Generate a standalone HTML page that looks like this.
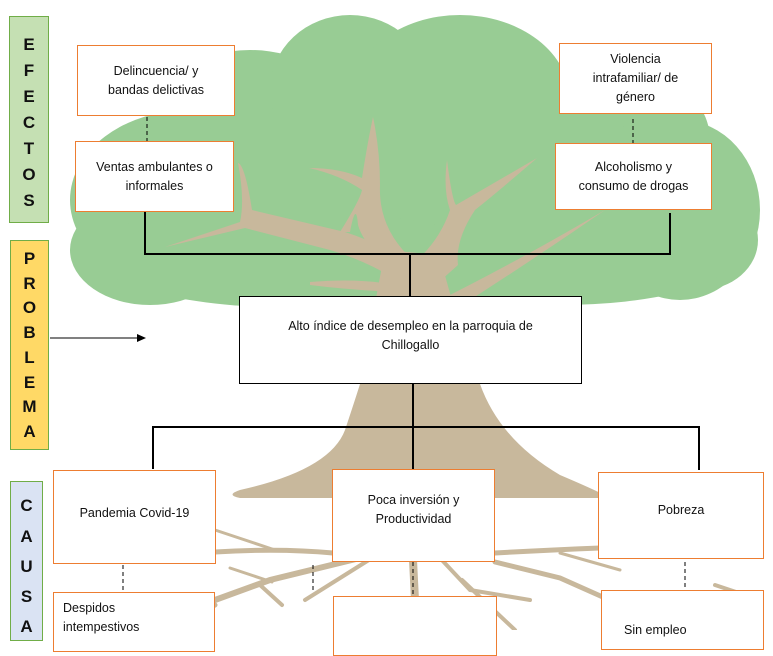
<!DOCTYPE html>
<html><head><meta charset="utf-8"><style>
body{margin:0;width:773px;height:630px;overflow:hidden;background:#fff;font-family:"Liberation Sans",sans-serif;position:relative}
.b{position:absolute;background:#fff;border:1.5px solid #ed7d31;box-sizing:border-box;display:flex;align-items:center;justify-content:center;text-align:center;font-size:12.5px;line-height:19px;color:#111}
.side{position:absolute;box-sizing:border-box;border:1.5px solid #70ad47;font-weight:bold;font-size:17px;text-align:center;color:#111}
.side span{position:absolute;left:0;right:0}
svg{position:absolute;left:0;top:0}
</style></head><body>
<svg width="773" height="630">
<g fill="#98cc94">
<ellipse cx="190" cy="200" rx="120" ry="90"/>
<ellipse cx="150" cy="250" rx="80" ry="55"/>
<ellipse cx="250" cy="120" rx="100" ry="70"/>
<ellipse cx="350" cy="90" rx="80" ry="75"/>
<ellipse cx="460" cy="100" rx="110" ry="85"/>
<ellipse cx="600" cy="140" rx="110" ry="80"/>
<ellipse cx="680" cy="210" rx="80" ry="90"/>
<ellipse cx="700" cy="240" rx="58" ry="50"/>
<ellipse cx="420" cy="200" rx="300" ry="100"/>
<ellipse cx="300" cy="260" rx="200" ry="48"/>
<ellipse cx="560" cy="260" rx="170" ry="45"/>
</g>
<g fill="#c8b89c">
<path d="M165 247 L240 222 Q245 200 238 163 Q245 165 252 210 L260 212 L345 232 Q400 250 430 280 L420 296 Q380 265 330 250 L245 228 Z"/>
<path d="M373 117 Q380 150 380 185 Q378 230 415 262 L405 275 Q365 250 358 225 Q356 200 350 232 L340 232 Q360 200 362 190 Q340 175 309 168 Q340 168 362 178 Q368 140 373 117 Z"/>
<path d="M447 160 Q452 200 456 205 L537 158 Q500 190 475 210 Q455 240 458 265 L430 290 L415 262 Q440 240 450 210 Q443 190 447 160 Z"/>
<path d="M605 210 Q540 255 470 300 L440 300 Q520 260 605 210 Z"/>
<path d="M310 282 Q360 278 395 285 L395 292 Q350 290 310 285 Z"/>
<path d="M385 250 L440 255 Q450 300 480 384 Q500 440 560 475 Q600 492 610 498 L240 498 Q225 495 240 490 Q330 470 345 430 Q355 400 360 384 Z"/>
</g>
<g stroke="#c8b89c" fill="none" stroke-linecap="round">
<path d="M215 552 Q280 548 333 553" stroke-width="5"/>
<path d="M215 530 L275 550" stroke-width="3"/>
<path d="M215 600 L270 580 L360 558" stroke-width="6"/>
<path d="M230 568 L272 582" stroke-width="3"/>
<path d="M260 585 L282 605" stroke-width="4"/>
<path d="M305 600 L372 558" stroke-width="4"/>
<path d="M413 560 L415 600" stroke-width="8"/>
<path d="M440 558 L470 590 L530 600" stroke-width="4"/>
<path d="M462 580 L515 630" stroke-width="4"/>
<path d="M495 553 Q550 550 600 548" stroke-width="5"/>
<path d="M560 553 L620 570" stroke-width="3"/>
<path d="M495 562 L560 578 L605 598" stroke-width="5"/>
<path d="M165 630 L215 605" stroke-width="5"/>
<path d="M715 585 L760 600" stroke-width="4"/>
</g>
<g stroke="#000" stroke-width="2" fill="none">
<path d="M145 212 V254 H670 V213"/>
<path d="M410 254 V296"/>
<path d="M413 384 V469"/>
<path d="M153 469 V427 H699 V470"/>
</g>
<g stroke="#000" stroke-width="1" stroke-dasharray="4,3" fill="none">
<path d="M147 117 V141"/><path d="M633 119 V143"/>
<path d="M123 565 V592"/><path d="M313 565 V590"/><path d="M413 562 V595"/><path d="M685 562 V588"/>
</g>
<path d="M50 338 H140" stroke="#000" stroke-width="1"/>
<path d="M146 338 L137 334 L137 342 Z" fill="#000"/>
</svg>
<div class="side" style="left:9px;top:16px;width:40px;height:207px;background:#c5e0b3">
<span style="top:18px">E</span><span style="top:44px">F</span><span style="top:70px">E</span><span style="top:96px">C</span><span style="top:122px">T</span><span style="top:148px">O</span><span style="top:174px">S</span></div>
<div class="side" style="left:10px;top:240px;width:39px;height:210px;background:#ffd966">
<span style="top:8px">P</span><span style="top:33px">R</span><span style="top:57px">O</span><span style="top:82px">B</span><span style="top:107px">L</span><span style="top:132px">E</span><span style="top:156px">M</span><span style="top:181px">A</span></div>
<div class="side" style="left:10px;top:481px;width:33px;height:160px;background:#dae3f3">
<span style="top:14px">C</span><span style="top:45px">A</span><span style="top:75px">U</span><span style="top:105px">S</span><span style="top:135px">A</span></div>
<div class="b" style="left:77px;top:45px;width:158px;height:71px">Delincuencia/ y<br>bandas delictivas</div>
<div class="b" style="left:559px;top:43px;width:153px;height:71px">Violencia<br>intrafamiliar/ de<br>género</div>
<div class="b" style="left:75px;top:141px;width:159px;height:71px">Ventas ambulantes o<br>informales</div>
<div class="b" style="left:555px;top:143px;width:157px;height:67px">Alcoholismo y<br>consumo de drogas</div>
<div class="b" style="left:239px;top:296px;width:343px;height:88px;border-color:#000;align-items:flex-start;padding-top:20px">Alto índice de desempleo en la parroquia de<br>Chillogallo</div>
<div class="b" style="left:53px;top:470px;width:163px;height:94px;padding-bottom:8px">Pandemia Covid-19</div>
<div class="b" style="left:332px;top:469px;width:163px;height:93px;padding-bottom:12px">Poca inversión y<br>Productividad</div>
<div class="b" style="left:598px;top:472px;width:166px;height:87px;padding-bottom:10px">Pobreza</div>
<div class="b" style="left:53px;top:592px;width:162px;height:60px;justify-content:flex-start;align-items:flex-start;text-align:left;padding:6px 0 0 9px">Despidos<br>intempestivos</div>
<div class="b" style="left:333px;top:596px;width:164px;height:60px"></div>
<div class="b" style="left:601px;top:590px;width:163px;height:60px;align-items:flex-start;padding-top:30px;justify-content:flex-start;padding-left:22px">Sin empleo</div>
</body></html>
